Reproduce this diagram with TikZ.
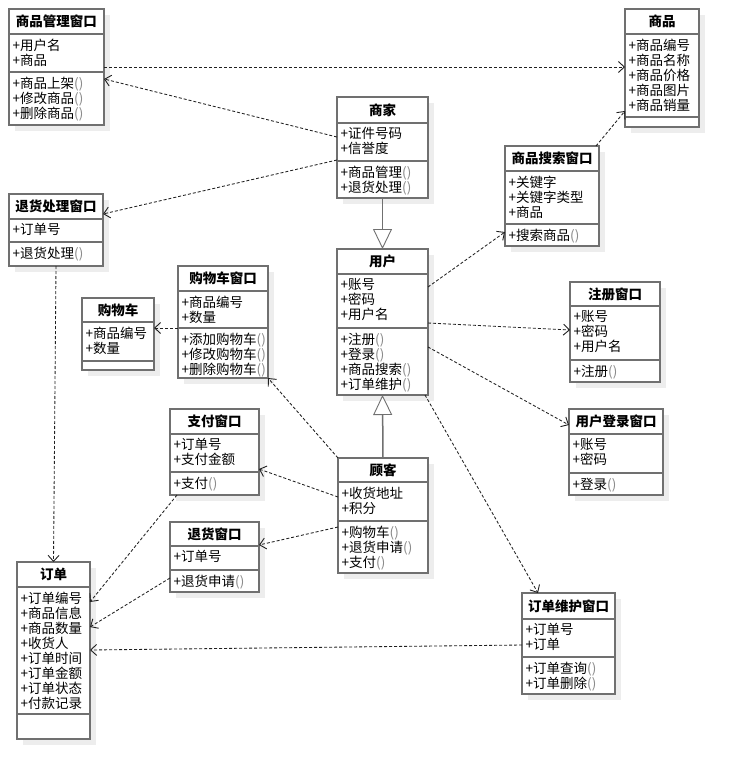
\documentclass[tikz,border=0pt]{standalone}
\usepackage{fontspec}
\setmainfont{Noto Sans CJK SC}
\usetikzlibrary{arrows.meta,calc}
\definecolor{boxc}{HTML}{707070}
\definecolor{shadc}{HTML}{EDEDED}
\definecolor{linec}{HTML}{202020}
\definecolor{parc}{HTML}{8A8A8A}
\newcommand\ep{\textcolor{parc}{()}}
\tikzset{
  cls/.style={draw=boxc, line width=1.5pt, fill=white, inner sep=0pt, outer sep=0pt},
  sepline/.style={draw=boxc, line width=1.5pt},
  ttl/.style={font=\fontsize{13.5}{15}\selectfont\bfseries, inner sep=0pt},
  txt/.style={anchor=north west, align=left, inner sep=0pt, font=\fontsize{13.5}{15}\selectfont},
  dep/.style={draw=linec, line width=0.85pt, dash pattern=on 3pt off 2pt,
    -{Straight Barb[length=6pt,width=11pt,line width=0.9pt]}},
  gen/.style={draw=boxc, line width=1.5pt,
    -{Triangle[open, length=20pt, width=19pt, line width=0.9pt, fill=white]}}
}
% #1 name, #2 x, #3 y, #4 w, #5 h, #6 title sep, #7 attr sep, #8 title
\newcommand\umlbox[8]{%
  \fill[shadc] ({#2+6},{#3+6}) rectangle ({#2+#4+6},{#3+#5+6});
  \node[cls, minimum width=#4pt, minimum height=#5pt, anchor=north west] (#1) at (#2,#3) {};
  \draw[sepline] ($(#1.north west)+(0,#6)$) -- ($(#1.north east)+(0,#6)$);
  \draw[sepline] ($(#1.north west)+(0,#7)$) -- ($(#1.north east)+(0,#7)$);
  \node[ttl] at ($(#1.north)+(0,{#6/2})$) {#8};
}
% #1 name, #2 sep offset, #3 lines
\newcommand\umltxt[3]{%
  \node[txt] at ($(#1.north west)+(3.5,{#2+4.5})$) {#3};
}
\begin{document}
\begin{tikzpicture}[x=1pt,y=-1pt]
\fill[white] (0,0) rectangle (738,779);
\useasboundingbox (0,0) rectangle (738,779);

\umlbox{gl}{9}{9}{95}{116}{25}{63}{商品管理窗口}
\umltxt{gl}{25}{+用户名\\+商品}
\umltxt{gl}{63}{+商品上架\ep\\+修改商品\ep\\+删除商品\ep}

\umlbox{sp}{625}{9}{74}{118}{25}{108}{商品}
\umltxt{sp}{25}{+商品编号\\+商品名称\\+商品价格\\+商品图片\\+商品销量}

\umlbox{sj}{337}{97}{91}{101}{26}{64}{商家}
\umltxt{sj}{26}{+证件号码\\+信誉度}
\umltxt{sj}{64}{+商品管理\ep\\+退货处理\ep}

\umlbox{ss}{505}{146}{94}{100}{25}{78}{商品搜索窗口}
\umltxt{ss}{25}{+关键字\\+关键字类型\\+商品}
\umltxt{ss}{78}{+搜索商品\ep}

\umlbox{thcl}{9}{194}{94}{72}{25}{48}{退货处理窗口}
\umltxt{thcl}{25}{+订单号}
\umltxt{thcl}{48}{+退货处理\ep}

\umlbox{gwc}{178}{266}{90}{112}{25}{62}{购物车窗口}
\umltxt{gwc}{25}{+商品编号\\+数量}
\umltxt{gwc}{62}{+添加购物车\ep\\+修改购物车\ep\\+删除购物车\ep}

\umlbox{gwch}{82}{298}{72}{72}{24}{63}{购物车}
\umltxt{gwch}{24}{+商品编号\\+数量}

\umlbox{yh}{337}{249}{91}{146}{25}{79}{用户}
\umltxt{yh}{25}{+账号\\+密码\\+用户名}
\umltxt{yh}{79}{+注册\ep\\+登录\ep\\+商品搜索\ep\\+订单维护\ep}

\umlbox{zc}{570}{282}{90}{100}{24}{78}{注册窗口}
\umltxt{zc}{24}{+账号\\+密码\\+用户名}
\umltxt{zc}{78}{+注册\ep}

\umlbox{dl}{569}{409}{94}{86}{25}{64}{用户登录窗口}
\umltxt{dl}{25}{+账号\\+密码}
\umltxt{dl}{64}{+登录\ep}

\umlbox{zf}{170}{409}{89}{86}{25}{63}{支付窗口}
\umltxt{zf}{25}{+订单号\\+支付金额}
\umltxt{zf}{63}{+支付\ep}

\umlbox{th}{170}{522}{89}{70}{24}{48}{退货窗口}
\umltxt{th}{24}{+订单号}
\umltxt{th}{48}{+退货申请\ep}

\umlbox{gk}{338}{458}{90}{115}{24}{63}{顾客}
\umltxt{gk}{24}{+收货地址\\+积分}
\umltxt{gk}{63}{+购物车\ep\\+退货申请\ep\\+支付\ep}

\umlbox{dd}{17}{562}{73}{177}{25}{152}{订单}
\umltxt{dd}{25}{+订单编号\\+商品信息\\+商品数量\\+收货人\\+订单时间\\+订单金额\\+订单状态\\+付款记录}

\umlbox{wh}{522}{593}{93}{101}{26}{64}{订单维护窗口}
\umltxt{wh}{26}{+订单号\\+订单}
\umltxt{wh}{64}{+订单查询\ep\\+订单删除\ep}

% connectors
\draw[dep] ($(gl.north east)+(0,58)$) -- ($(sp.north west)+(0,58)$);
\draw[dep] ($(sj.north west)+(0,40)$) -- ($(gl.north east)+(0,70)$);
\draw[dep] ($(sj.north west)+(0,63)$) -- ($(thcl.north east)+(0,20)$);
\draw[gen] (sj.south) -- (yh.north);
\draw[gen] (gk.north) -- (yh.south);
\draw[dep] ($(ss.north east)+(-3,0)$) -- ($(sp.north west)+(0,102)$);
\draw[dep] ($(yh.north east)+(0,38)$) -- ($(ss.north west)+(0,86)$);
\draw[dep] ($(yh.north east)+(0,74)$) -- ($(zc.north west)+(0,48)$);
\draw[dep] ($(yh.north east)+(0,98)$) -- ($(dl.north west)+(0,16)$);
\draw[dep] ($(yh.south east)+(-3,0)$) -- ($(wh.north west)+(16,0)$);
\draw[dep] ($(gwc.north west)+(0,62)$) -- ($(gwch.north east)+(0,30)$);
\draw[dep] (gk.north west) -- (gwc.south east);
\draw[dep] ($(gk.north west)+(0,39)$) -- ($(zf.north east)+(0,60)$);
\draw[dep] ($(gk.north west)+(0,69)$) -- ($(th.north east)+(0,23)$);
\draw[dep] (thcl.south) -- (dd.north);
\draw[dep] ($(zf.south west)+(7,0)$) -- ($(dd.north east)+(0,40)$);
\draw[dep] ($(th.north west)+(0,56)$) -- ($(dd.north east)+(0,65)$);
\draw[dep] ($(wh.north west)+(0,52)$) -- ($(dd.north east)+(0,88)$);
\end{tikzpicture}
\end{document}
